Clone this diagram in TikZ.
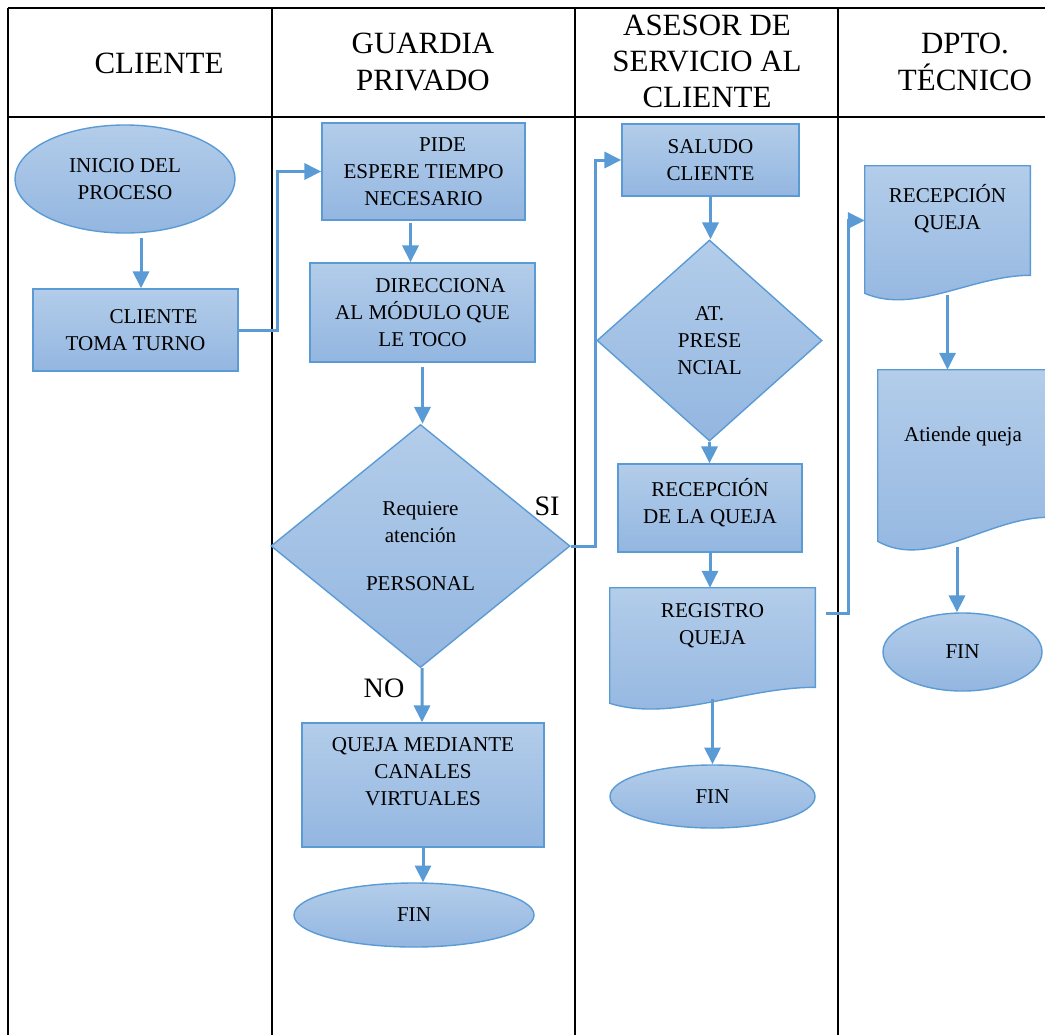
\documentclass[tikz,border=0pt]{standalone}
\usepackage{fontspec}
\setmainfont{Liberation Serif}
\usetikzlibrary{arrows.meta,shapes.geometric,positioning,calc,backgrounds}
\definecolor{ink}{HTML}{000000}
\definecolor{flowline}{HTML}{5B9BD5}
\definecolor{shadetop}{HTML}{B3CDEA}
\definecolor{shadebot}{HTML}{93B6E0}
\newcommand{\BodyFont}{\fontsize{15}{19.2}\selectfont}
\newcommand{\HeadFont}{\fontsize{22}{25.8}\selectfont}
\newcommand{\TagFont}{\fontsize{20}{24}\selectfont}
\newcommand{\TableTop}{8}
\newcommand{\HeadRule}{117}
\newcommand{\TableBottom}{1040}
\newcommand{\TableRight}{1050}
% wavy bottom of a document box, #2 = drop of the left corner
\newcommand{\DocShape}[2]{%
  \draw[docline] (#1.north west) -- (#1.north east) -- (#1.south east)
    .. controls ($(#1.south east)!0.35!(#1.south west)$) and ($(#1.south west)!0.3!(#1.south east)+(0,{2.2*#2})$)
    .. ($(#1.south west)+(0,#2)$) -- cycle;}

\begin{document}
\begin{tikzpicture}[
    x=0.025cm, y=-0.025cm, font=\BodyFont, ink,
    lane/.style={draw=ink, line width=0.05cm},
    lanehead/.style={font=\HeadFont, align=center, inner sep=0pt},
    flow/.style={-{Triangle[length=0.42cm, width=0.4cm]}, line width=0.075cm, draw=flowline},
    flowshape/.style={draw=flowline, line width=0.035cm, top color=shadetop, bottom color=shadebot, align=center, inner sep=0pt},
    process/.style={flowshape, rectangle},
    decision/.style={flowshape, diamond},
    terminal/.style={flowshape, ellipse},
    docbox/.style={rectangle, align=center, inner sep=0pt},
    docline/.style={draw=flowline, line width=0.035cm, top color=shadetop, bottom color=shadebot},
    tag/.style={font=\TagFont, inner sep=0pt},
  ]
\useasboundingbox (0,0) rectangle (1045,1034);

% --- Swimlane table ------------------------------------------------------------
\foreach \x in {8,272,575,838} {
  \draw[lane] (\x,\TableTop) -- (\x,\TableBottom);
}
\draw[lane] (8,\TableTop) -- (\TableRight,\TableTop);
\draw[lane] (8,\HeadRule) -- (\TableRight,\HeadRule);

\node[lanehead] (hcliente) at (159,63) {CLIENTE};
\node[lanehead] (hguardia) at (423,62) {GUARDIA\\PRIVADO};
\node[lanehead] (hasesor) at (707,61.5) {ASESOR DE\\SERVICIO AL\\CLIENTE};
\node[lanehead] (hdpto) at (965,62) {DPTO.\\TÉCNICO};

% --- Cliente -------------------------------------------------------------------
\node[terminal, minimum width=5.5cm, minimum height=2.7cm] (inicio) at (125,179) {INICIO DEL\\PROCESO};
\node[process, minimum width=5.125cm, minimum height=2.05cm] (toma) at (135.5,330) {\hspace*{0.9cm}CLIENTE\\TOMA TURNO};

% --- Guardia privado -----------------------------------------------------------
\node[process, minimum width=5.075cm, minimum height=2.425cm] (pide) at (423.5,171.5) {\hspace*{0.95cm}PIDE\\ESPERE TIEMPO\\NECESARIO};
\node[process, minimum width=5.625cm, minimum height=2.475cm] (direcciona) at (422.5,312.5) {\hspace*{0.9cm}DIRECCIONA\\AL MÓDULO QUE\\LE TOCO};
\node[decision, minimum width=7.475cm, minimum height=6.075cm] (requiere) at (420.5,546) {Requiere\\atención\\[0.52cm]PERSONAL};
\node[process, minimum width=6.05cm, minimum height=3.1cm] (virtual) at (423,785) {QUEJA MEDIANTE\\CANALES\\VIRTUALES\\ \mbox{}};
\node[terminal, minimum width=6cm, minimum height=1.6cm] (fin1) at (414,915) {FIN};
\node[tag] (si) at (547,506) {SI};
\node[tag] (no) at (384,688) {NO};

% --- Asesor de servicio al cliente ---------------------------------------------
\node[process, minimum width=4.425cm, minimum height=1.8cm] (saludo) at (710.5,160) {SALUDO\\CLIENTE};
\node[decision, minimum width=5.625cm, minimum height=5.025cm] (presencial) at (709.5,340.5) {AT.\\PRESE\\NCIAL};
\node[process, minimum width=4.6cm, minimum height=2.2cm] (recepcion) at (710,508) {RECEPCIÓN\\DE LA QUEJA\\[-0.3cm]\mbox{}};
\node[docbox, minimum width=5.125cm, minimum height=2.475cm] (registro) at (712.5,637.5) {REGISTRO\\QUEJA\\ \mbox{}};
\node[terminal, minimum width=5.125cm, minimum height=1.575cm] (fin2) at (712.5,796.5) {FIN};

% --- Dpto. tecnico -------------------------------------------------------------
\node[docbox, minimum width=4.125cm, minimum height=2.725cm] (recepqueja) at (947.5,220.5) {RECEPCIÓN\\QUEJA\\ \mbox{}};
\node[docbox, minimum width=4.25cm, minimum height=3.675cm] (atiende) at (963,443.5) {Atiende queja\\[-0.2cm]\mbox{}};
\node[terminal, minimum width=3.975cm, minimum height=1.95cm] (fin3) at (962.5,652) {FIN};

\begin{scope}[on background layer]
  \DocShape{registro}{16}
  \DocShape{recepqueja}{18}
  \DocShape{atiende}{24}
\end{scope}

% --- Connectors ----------------------------------------------------------------
\draw[flow] ($(toma.north |- inicio.south)+(5.5,4)$) -- ($(toma.north)+(5.5,0)$);
\draw[flow] (toma.east) -- ++(39,0) |- (pide.west);
\draw[flow] ($(pide.south)+(-13,2)$) -- ($(direcciona.north)+(-12,0)$);
\draw[flow] ($(direcciona.south)+(0,4)$) -- (direcciona.south |- requiere.north);
\draw[flow] (requiere.east) -- ++(25,0) |- (saludo.west);
\draw[flow] ($(requiere.south)+(1.5,0)$) -- ($(virtual.north)+(-1,0)$);
\draw[flow] (virtual.south) -- (virtual.south |- fin1.north);
\draw[flow] (saludo.south) -- (saludo.south |- presencial.north);
\draw[flow] (presencial.south) -- (presencial.south |- recepcion.north);
\draw[flow] (recepcion.south) -- ($(registro.north)+(-2.5,0)$);
\draw[flow] ($(registro.south)+(0,12)$) -- (fin2.north);
\draw[flow] ($(registro.east)+(11,-24.5)$) -- ++(22,0) |- (recepqueja.west);
\draw[flow] ($(recepqueja.south)+(0,20)$) -- (recepqueja.south |- atiende.north);
\draw[flow] ($(fin3.north)+(-5.5,-65)$) -- ($(fin3.north)+(-5.5,0)$);

\end{tikzpicture}
\end{document}
